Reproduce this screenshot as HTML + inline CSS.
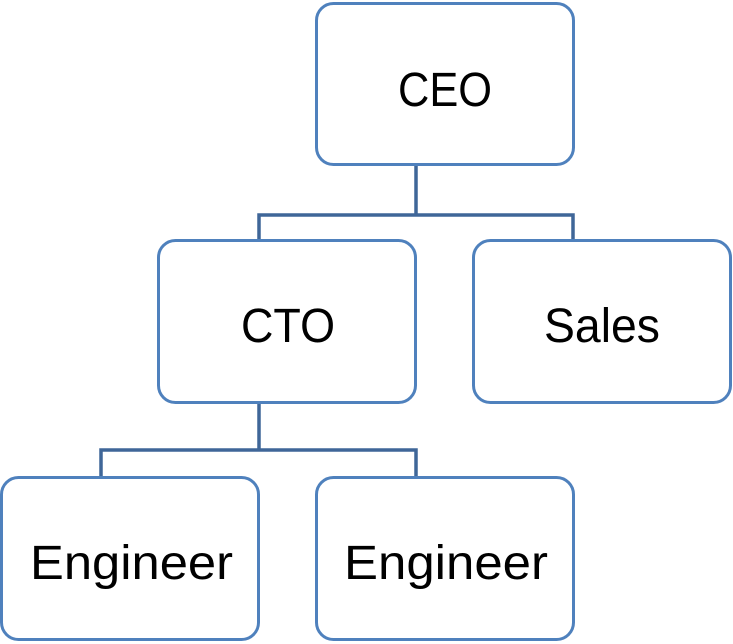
<!DOCTYPE html>
<html><head><style>body{margin:0;background:#fff}</style></head><body>
<svg width="733" height="644" xmlns="http://www.w3.org/2000/svg" style="display:block">
<g stroke="#3f6698" stroke-width="3.5" fill="none">
<path d="M416 165V215M259 240V215H573V240"/>
<path d="M259 403V450M101 477V450H416V477"/>
</g>
<g stroke="#4f81bd" stroke-width="3" fill="#fff">
<rect x="316.5" y="3.5" width="257" height="161" rx="17"/>
<rect x="158.5" y="240.5" width="257" height="162" rx="17"/>
<rect x="473.5" y="240.5" width="257" height="162" rx="17"/>
<rect x="1.5" y="477.5" width="257" height="162" rx="17"/>
<rect x="316.5" y="477.5" width="257" height="162" rx="17"/>
</g>
<g font-family="'Liberation Sans',sans-serif" font-size="48" fill="#000" lengthAdjust="spacingAndGlyphs">
<text x="398" y="106" textLength="94" lengthAdjust="spacingAndGlyphs">CEO</text>
<text x="241" y="342" textLength="94" lengthAdjust="spacingAndGlyphs">CTO</text>
<text x="544" y="342" textLength="116" lengthAdjust="spacingAndGlyphs">Sales</text>
<text x="30" y="579" textLength="203" lengthAdjust="spacingAndGlyphs">Engineer</text>
<text x="344" y="579" textLength="204" lengthAdjust="spacingAndGlyphs">Engineer</text>
</g>
</svg>
</body></html>
